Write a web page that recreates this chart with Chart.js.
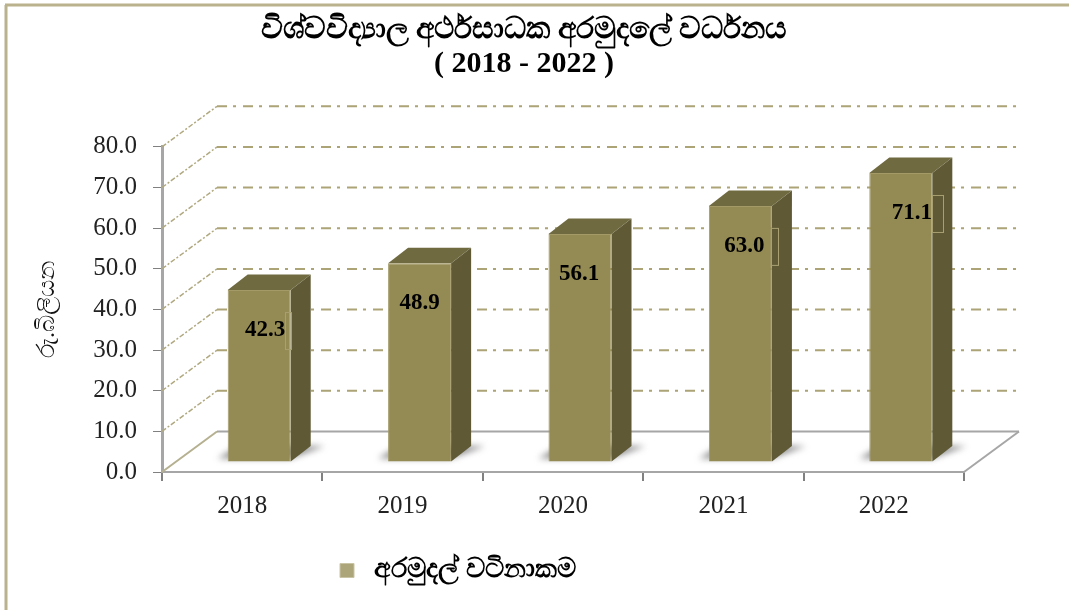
<!DOCTYPE html>
<html>
<head>
<meta charset="utf-8">
<style>
  html, body { margin: 0; padding: 0; background: #fff; overflow: hidden; }
  #wrap { position: relative; width: 1069px; height: 610px; }
  /* the original is a soft, scaled up screenshot */
  canvas { filter: blur(0.5px); }
</style>
<script src="https://cdn.jsdelivr.net/npm/chart.js@4"></script>
</head>
<body>
<div id="wrap"><canvas id="fundChart" width="1069" height="610"></canvas></div>
<script>
const years = ["2018", "2019", "2020", "2021", "2022"];
const fundValues = [42.3, 48.9, 56.1, 63.0, 71.1];
const valueTicks = [0, 10, 20, 30, 40, 50, 60, 70, 80];
const titleLines = ["විශ්වවිද්‍යාල අර්ථසාධක අරමුදලේ වර්ධනය", "( 2018 - 2022 )"];
const seriesName = "අරමුදල් වටිනාකම";
const axisName = "රු.බිලියන";

const SERIF = '"Liberation Serif", "Noto Sans", serif';

/* fake 3D settings */
const WALL = { dx: 55, dy: -40.5 };
const BAR_SHIFT = { x: 17, y: -10 };
const BAR_DEPTH = { dx: 20, dy: -15.5 };
const LABEL_NUDGE = [6, 0, -1, 4, 11];

function poly(ctx, pts, fill) {
  ctx.beginPath();
  pts.forEach((p, i) => i ? ctx.lineTo(p[0], p[1]) : ctx.moveTo(p[0], p[1]));
  ctx.closePath();
  if (fill) { ctx.fillStyle = fill; ctx.fill(); }
}

function line(ctx, x1, y1, x2, y2, color, width, dash) {
  ctx.save();
  ctx.strokeStyle = color;
  ctx.lineWidth = width;
  ctx.setLineDash(dash || []);
  ctx.beginPath();
  ctx.moveTo(x1, y1);
  ctx.lineTo(x2, y2);
  ctx.stroke();
  ctx.restore();
}

const scene3d = {
  id: "scene3d",
  afterLayout(chart) {
    // title and legend do not sit on the middle of the canvas in the original
    const t = chart.titleBlock;
    t.left += 42; t.right += 42;
    const l = chart.legend;
    l.left -= 24; l.right -= 24;
    l.top = 543; l.bottom = 598;
  },
  beforeDraw(chart) {
    const ctx = chart.ctx;
    // frame, only top and left show
    line(ctx, 5, 5, 1069, 5, "#b9b28c", 3);
    line(ctx, 6, 5, 6, 610, "#b9b28c", 3);
  },
  beforeDatasetsDraw(chart) {
    const ctx = chart.ctx;
    const y = chart.scales.y;
    const area = chart.chartArea;

    // floor
    const floorY = y.getPixelForValue(0);
    line(ctx, area.left + WALL.dx, floorY + WALL.dy, area.right + WALL.dx, floorY + WALL.dy, "#a6a6a6", 2);
    line(ctx, area.right, floorY, area.right + WALL.dx, floorY + WALL.dy, "#a6a6a6", 2);
    line(ctx, area.left, floorY, area.left + WALL.dx, floorY + WALL.dy, "#b5b090", 2);

    // walls
    valueTicks.forEach(v => {
      if (v === 0) return;
      const py = y.getPixelForValue(v);
      line(ctx, area.left, py, area.left + WALL.dx, py + WALL.dy, "#b0a980", 1.5, [5, 2, 2, 2]);
      line(ctx, area.left + WALL.dx, py + WALL.dy, area.right + WALL.dx + 2, py + WALL.dy, "#aca377", 2, [10, 6, 3, 7]);
    });

    // bar shadows then the side and top faces
    const bars = chart.getDatasetMeta(0).data;
    bars.forEach(bar => {
      const p = bar.getProps(["x", "y", "base", "width"], true);
      const left = p.x - p.width / 2 + BAR_SHIFT.x;
      const right = p.x + p.width / 2 + BAR_SHIFT.x;
      const top = p.y + BAR_SHIFT.y;
      const bottom = p.base + BAR_SHIFT.y;

      ctx.save();
      ctx.filter = "blur(3px)";
      poly(ctx, [[left - 10, bottom - 3], [right, bottom - 3], [right + BAR_DEPTH.dx + 14, bottom + BAR_DEPTH.dy],
        [left + 10, bottom + BAR_DEPTH.dy]], "rgba(95,95,95,0.7)");
      ctx.restore();

      poly(ctx, [[right, top], [right + BAR_DEPTH.dx, top + BAR_DEPTH.dy],
        [right + BAR_DEPTH.dx, bottom + BAR_DEPTH.dy], [right, bottom]], "#5f5a35");
      poly(ctx, [[left, top], [left + BAR_DEPTH.dx, top + BAR_DEPTH.dy],
        [right + BAR_DEPTH.dx, top + BAR_DEPTH.dy], [right, top]], "#6f6a40");
    });

    // the bars themselves are drawn by Chart.js, moved onto the floor
    ctx.save();
    ctx.translate(BAR_SHIFT.x, BAR_SHIFT.y);
  },
  afterDatasetsDraw(chart) {
    const ctx = chart.ctx;
    ctx.restore();

    const bars = chart.getDatasetMeta(0).data;
    bars.forEach((bar, i) => {
      const p = bar.getProps(["x", "y"], true);
      const lx = p.x + BAR_SHIFT.x + LABEL_NUDGE[i];
      const ly = p.y + BAR_SHIFT.y + 40;
      ctx.fillStyle = "#000";
      ctx.font = 'bold 23px ' + SERIF;
      ctx.textAlign = "center";
      ctx.textBaseline = "middle";
      ctx.fillText(fundValues[i].toFixed(1), lx, ly);
    });

    // leftover label frames of the original, on the bars' right edge
    [[0, 285, 6], [3, 771, 7], [4, 932, 11]].forEach(([i, bx, w]) => {
      const p = bars[i].getProps(["y"], true);
      ctx.strokeStyle = "#a89f72";
      ctx.lineWidth = 1;
      ctx.strokeRect(bx + 0.5, p.y + BAR_SHIFT.y + 22.5, w, 37);
    });
  }
};

new Chart(document.getElementById("fundChart"), {
  type: "bar",
  data: {
    labels: years,
    datasets: [{
      label: seriesName,
      data: fundValues,
      backgroundColor: "#948a53",
      borderColor: "#a39a68",
      borderWidth: 1,
      barPercentage: 0.393,
      categoryPercentage: 1
    }]
  },
  options: {
    responsive: false,
    animation: false,
    layout: { padding: { left: 0, right: 105, top: 0, bottom: 0 } },
    plugins: {
      tooltip: { enabled: false },
      title: {
        display: true,
        text: titleLines,
        color: "#000",
        font: { family: SERIF, size: 30, weight: "bold", lineHeight: 1.13 },
        padding: { top: 13, bottom: 66 }
      },
      legend: {
        display: true,
        position: "bottom",
        labels: {
          color: "#000",
          boxWidth: 14,
          boxHeight: 14,
          padding: 14,
          font: { family: SERIF, size: 27, weight: "bold" },
          generateLabels: () => [{
            text: "\u00a0" + seriesName,
            fillStyle: "#aca57a",
            strokeStyle: "#c9c4a4",
            lineWidth: 1,
            datasetIndex: 0
          }]
        }
      }
    },
    scales: {
      x: {
        afterFit: s => { s.height = 87; },
        border: { color: "#a6a6a6", width: 2 },
        grid: { drawOnChartArea: false, tickLength: 9, color: "#808080", lineWidth: 2 },
        ticks: { color: "#222", padding: 10, font: { family: SERIF, size: 25 } }
      },
      y: {
        min: 0,
        max: 80,
        afterFit: s => { s.width = 162; },
        afterBuildTicks: s => { s.ticks = valueTicks.map(v => ({ value: v })); },
        border: { color: "#a6a6a6", width: 3 },
        grid: { drawOnChartArea: false, tickLength: 9, color: "#808080", lineWidth: 1 },
        title: {
          display: true,
          text: axisName,
          color: "#111",
          padding: { top: 33, bottom: 0 },
          font: { family: SERIF, size: 24 }
        },
        ticks: {
          color: "#222",
          padding: 16,
          font: { family: SERIF, size: 25 },
          callback: v => v.toFixed(1)
        }
      }
    }
  },
  plugins: [scene3d]
});
</script>
</body>
</html>
